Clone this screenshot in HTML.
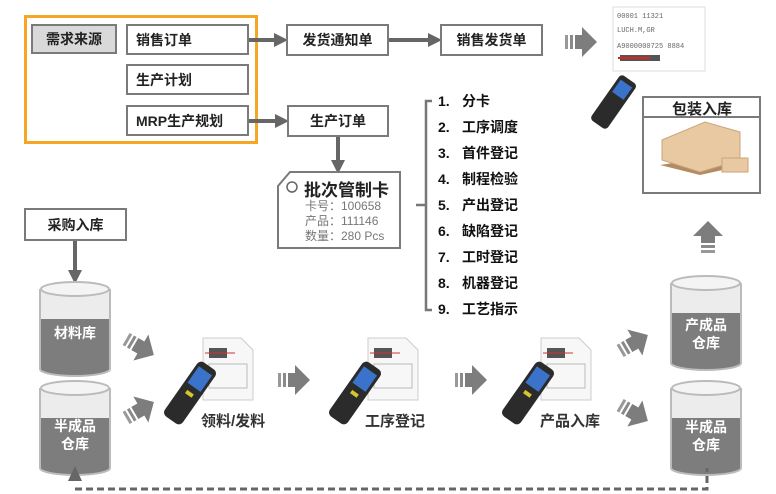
<!DOCTYPE html>
<html><head><meta charset="utf-8"><style>
body{margin:0;width:776px;height:494px;background:#fff;position:relative;overflow:hidden;font-family:"Liberation Sans","Noto Sans CJK SC",sans-serif;}
.b{position:absolute;border:2px solid #7a7a7a;background:#fff;box-sizing:border-box;font-weight:bold;font-size:14px;color:#222;display:flex;align-items:center;}
.c{justify-content:center}
.t{position:absolute;font-weight:bold;font-size:14px;color:#222;white-space:nowrap}
.li{position:absolute;left:438px;font-weight:bold;font-size:14px;color:#111;}
.li span{display:inline-block;width:24px}
.cl{position:absolute;color:#fff;font-weight:bold;font-size:14px;text-align:center;line-height:18px;width:72px}
svg{position:absolute;left:0;top:0}
</style></head><body>
<svg width="776" height="494">
<defs>
<marker id="ah" markerWidth="14" markerHeight="14" refX="10" refY="7" orient="auto" markerUnits="userSpaceOnUse"><path d="M0,0 L14,7 L0,14Z" fill="#666"/></marker>
<g id="cyl"><rect x="0" y="8" width="70" height="80" fill="#7d7d7d"/><ellipse cx="35" cy="88" rx="35" ry="7" fill="#7d7d7d"/><ellipse cx="35" cy="38" rx="35" ry="5" fill="#7d7d7d"/><rect x="0" y="8" width="70" height="30" fill="#ececec"/><path d="M0,8 V88 A35,7 0 0 0 70,88 V8" fill="none" stroke="#bbb" stroke-width="2"/><ellipse cx="35" cy="8" rx="34" ry="7" fill="#f4f4f4" stroke="#bbb" stroke-width="2"/></g>
<g id="ba"><rect x="0" y="8" width="3" height="14" fill="#999"/><rect x="5" y="8" width="3" height="14" fill="#8a8a8a"/><rect x="10" y="8" width="8" height="14" fill="#7d7d7d"/><path d="M17,0 L32,15 L17,30Z" fill="#7d7d7d"/></g>
<g id="dev"><path d="M38,0 H76 L88,12 V62 H38Z" fill="#f7f7f7" stroke="#ccc"/><rect x="44" y="10" width="18" height="10" fill="#555"/><line x1="40" y1="15" x2="70" y2="15" stroke="#c33"/><rect x="44" y="26" width="38" height="24" fill="none" stroke="#bbb"/><g transform="rotate(35 25 55)"><rect x="14" y="22" width="22" height="66" rx="5" fill="#2b2b2b"/><rect x="17" y="28" width="16" height="20" fill="#3a73c9"/><rect x="21" y="54" width="8" height="4" fill="#d8c330"/></g></g>
</defs>
<rect x="25.5" y="16.5" width="231" height="126" fill="none" stroke="#f5a623" stroke-width="3"/>
<line x1="248" y1="40" x2="284" y2="40" stroke="#666" stroke-width="4" marker-end="url(#ah)"/>
<line x1="388" y1="40" x2="438" y2="40" stroke="#666" stroke-width="4" marker-end="url(#ah)"/>
<line x1="248" y1="121" x2="285" y2="121" stroke="#666" stroke-width="4" marker-end="url(#ah)"/>
<line x1="338" y1="136" x2="338" y2="170" stroke="#666" stroke-width="4" marker-end="url(#ah)"/>
<line x1="75" y1="240" x2="75" y2="280" stroke="#666" stroke-width="4" marker-end="url(#ah)"/>
<path d="M290,172 H400 V248 H278 V186Z" fill="#fff" stroke="#7a7a7a" stroke-width="2"/>
<circle cx="292" cy="187" r="5" fill="none" stroke="#666" stroke-width="1.5"/>
<path d="M432,101 H426 V310 H432 M416,205 H426" fill="none" stroke="#777" stroke-width="2.5"/>
<use href="#cyl" x="40" y="281"/>
<use href="#cyl" x="40" y="380"/>
<use href="#cyl" x="671" y="275"/>
<use href="#cyl" x="671" y="380"/>
<path d="M75,489 H707 V468" fill="none" stroke="#666" stroke-width="3" stroke-dasharray="7,4"/>
<path d="M75,466 L68,481 H82Z" fill="#666"/>
<use href="#ba" transform="translate(124,332) rotate(30 16 15)"/>
<use href="#ba" transform="translate(124,395) rotate(-30 16 15)"/>
<use href="#ba" x="278" y="365"/>
<use href="#ba" x="455" y="365"/>
<use href="#ba" transform="translate(618,328) rotate(-30 16 15)"/>
<use href="#ba" transform="translate(618,398) rotate(30 16 15)"/>
<use href="#ba" x="565" y="27"/>
<use href="#ba" transform="translate(692,222) rotate(-90 16 15)"/>
<use href="#dev" x="165" y="338"/>
<use href="#dev" x="330" y="338"/>
<use href="#dev" x="503" y="338"/>
<rect x="613" y="7" width="92" height="64" fill="#fff" stroke="#ddd"/>
<g fill="#666" font-size="7" font-family="Liberation Mono"><text x="617" y="18">00001 11321</text><text x="617" y="32">LUCH.M,GR</text><text x="617" y="48">A9000000725 8884</text></g>
<rect x="620" y="55" width="40" height="6" fill="#555"/><line x1="618" y1="58" x2="650" y2="58" stroke="#d22" stroke-width="2"/>
<g transform="rotate(35 615 100)"><rect x="605" y="75" width="20" height="55" rx="4" fill="#2b2b2b"/><rect x="608" y="80" width="14" height="15" fill="#3a73c9"/></g>
<rect x="643" y="97" width="117" height="96" fill="#fff" stroke="#7a7a7a" stroke-width="2"/>
<line x1="643" y1="117" x2="760" y2="117" stroke="#7a7a7a" stroke-width="2"/>
<path d="M660,165 L705,158 L745,165 L700,175Z" fill="#b58a62"/>
<path d="M662,140 L705,122 L740,132 L740,160 L700,172 L662,160Z" fill="#e8c9a2" stroke="#c9a57c"/>
<rect x="722" y="158" width="26" height="14" fill="#e8c9a2" stroke="#c9a57c"/>
</svg>
<div class="b c" style="left:31px;top:24px;width:86px;height:30px;background:#d9d9d9;">需求来源</div>
<div class="b" style="left:126px;top:24px;width:123px;height:31px;padding-left:8px">销售订单</div>
<div class="b" style="left:126px;top:64px;width:123px;height:31px;padding-left:8px">生产计划</div>
<div class="b" style="left:126px;top:105px;width:123px;height:31px;padding-left:8px">MRP生产规划</div>
<div class="b c" style="left:286px;top:24px;width:103px;height:32px">发货通知单</div>
<div class="b c" style="left:440px;top:24px;width:103px;height:32px">销售发货单</div>
<div class="b c" style="left:287px;top:105px;width:102px;height:32px">生产订单</div>
<div class="b c" style="left:24px;top:208px;width:103px;height:33px">采购入库</div>
<div class="t" style="left:304px;top:176px;font-size:17px">批次管制卡</div>
<div style="position:absolute;left:305px;top:199px;font-size:12px;color:#777;line-height:15px">卡号：100658<br>产品：111146<br>数量：280 Pcs</div>
<div class="li" style="top:91px"><span>1.</span>分卡</div>
<div class="li" style="top:117px"><span>2.</span>工序调度</div>
<div class="li" style="top:143px"><span>3.</span>首件登记</div>
<div class="li" style="top:169px"><span>4.</span>制程检验</div>
<div class="li" style="top:195px"><span>5.</span>产出登记</div>
<div class="li" style="top:221px"><span>6.</span>缺陷登记</div>
<div class="li" style="top:247px"><span>7.</span>工时登记</div>
<div class="li" style="top:273px"><span>8.</span>机器登记</div>
<div class="li" style="top:299px"><span>9.</span>工艺指示</div>
<div class="cl" style="left:39px;top:324px">材料库</div>
<div class="cl" style="left:39px;top:417px">半成品<br>仓库</div>
<div class="cl" style="left:670px;top:316px">产成品<br>仓库</div>
<div class="cl" style="left:670px;top:418px">半成品<br>仓库</div>
<div class="t" style="left:201px;top:410px;font-size:15px;color:#333">领料/发料</div>
<div class="t" style="left:365px;top:410px;font-size:15px;color:#333">工序登记</div>
<div class="t" style="left:540px;top:410px;font-size:15px;color:#333">产品入库</div>
<div class="t" style="left:672px;top:98px;font-size:15px">包装入库</div>
</body></html>
